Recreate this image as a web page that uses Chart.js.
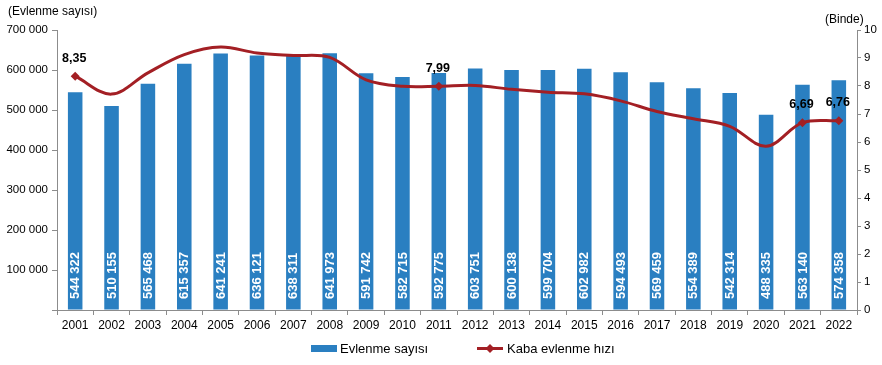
<!DOCTYPE html>
<html lang="tr">
  <head>
    <meta charset="UTF-8" />
    <title>Evlenme sayısı ve kaba evlenme hızı</title>
    <script src="https://cdn.jsdelivr.net/npm/chart.js"></script>
    <style>
      html, body {
        margin: 0;
        padding: 0;
        background: #ffffff;
      }
      #wrap {
        width: 882px;
        height: 365px;
      }
    </style>
  </head>
  <body>
    <div id="wrap"><canvas id="myChart" width="882" height="365"></canvas></div>

    <script>
      const years = ["2001", "2002", "2003", "2004", "2005", "2006", "2007", "2008", "2009", "2010", "2011",
        "2012", "2013", "2014", "2015", "2016", "2017", "2018", "2019", "2020", "2021", "2022"];
      const marriages = [544322, 510155, 565468, 615357, 641241, 636121, 638311, 641973, 591742, 582715, 592775,
        603751, 600138, 599704, 602982, 594493, 569459, 554389, 542314, 488335, 563140, 574358];
      const rates = [8.35, 7.71, 8.47, 9.12, 9.39, 9.18, 9.09, 9.02, 8.22, 7.99, 7.99,
        8.02, 7.88, 7.78, 7.72, 7.47, 7.09, 6.83, 6.56, 5.85, 6.69, 6.76];
      const labelledYears = ["2001", "2011", "2021", "2022"];
      const leftTicks = [0, 100000, 200000, 300000, 400000, 500000, 600000, 700000];
      const rightTicks = [0, 1, 2, 3, 4, 5, 6, 7, 8, 9, 10];

      const barColor = "#2a7fc1";
      const lineColor = "#a31f24";
      const axisColor = "#8c8c8c";
      const font = "'Liberation Sans', Arial, sans-serif";

      const fmt = (v) => String(v).replace(/\B(?=(\d{3})+(?!\d))/g, " ");
      const markerRadius = years.map((y) => (labelledYears.includes(y) ? 4.5 : 0));

      const labelsPlugin = {
        id: "labels",
        afterDatasetsDraw(chart) {
          const c = chart.ctx;
          const barMeta = chart.getDatasetMeta(1);
          const lineMeta = chart.getDatasetMeta(0);
          c.save();
          c.fillStyle = "#ffffff";
          c.font = "bold 13px " + font;
          c.textAlign = "left";
          c.textBaseline = "middle";
          barMeta.data.forEach((bar, i) => {
            c.save();
            c.translate(bar.x + 0.5, chart.chartArea.bottom - 11);
            c.rotate(-Math.PI / 2);
            c.fillText(fmt(marriages[i]), 0, 0);
            c.restore();
          });
          c.fillStyle = "#000000";
          c.font = "bold 12.5px " + font;
          c.textAlign = "center";
          c.textBaseline = "middle";
          lineMeta.data.forEach((pt, i) => {
            if (!labelledYears.includes(years[i])) return;
            c.fillText(rates[i].toFixed(2).replace(".", ","), pt.x - 1, pt.y - 18);
          });
          c.restore();
        },
        afterDraw(chart) {
          const c = chart.ctx;
          c.save();
          c.fillStyle = "#000000";
          c.font = "12px " + font;
          c.textBaseline = "middle";
          c.textAlign = "left";
          c.fillText("(Evlenme sayısı)", 8, 12);
          c.fillText("(Binde)", 825, 20);

          // legend
          c.font = "13px " + font;
          c.fillStyle = barColor;
          c.fillRect(311, 345, 26, 7);
          c.fillStyle = "#000000";
          c.fillText("Evlenme sayısı", 340, 349);
          c.strokeStyle = lineColor;
          c.lineWidth = 3;
          c.beginPath();
          c.moveTo(477, 348.5);
          c.lineTo(503, 348.5);
          c.stroke();
          c.fillStyle = lineColor;
          c.beginPath();
          c.moveTo(490, 344);
          c.lineTo(494.5, 348.5);
          c.lineTo(490, 353);
          c.lineTo(485.5, 348.5);
          c.closePath();
          c.fill();
          c.fillStyle = "#000000";
          c.fillText("Kaba evlenme hızı", 507, 349);
          c.restore();
        },
      };

      const ctx = document.getElementById("myChart").getContext("2d");
      const myChart = new Chart(ctx, {
        data: {
          labels: years,
          datasets: [
            {
              type: "line",
              label: "Kaba evlenme hızı",
              data: rates,
              yAxisID: "y1",
              borderColor: lineColor,
              backgroundColor: lineColor,
              borderWidth: 3,
              tension: 0.35,
              pointStyle: "rectRot",
              pointRadius: markerRadius,
              pointBorderWidth: 0,
              order: 1,
            },
            {
              type: "bar",
              label: "Evlenme sayısı",
              data: marriages,
              yAxisID: "y",
              backgroundColor: barColor,
              categoryPercentage: 1,
              barPercentage: 0.4,
              order: 2,
            },
          ],
        },
        options: {
          responsive: false,
          animation: false,
          devicePixelRatio: 1,
          layout: { padding: { top: 30, left: 0, right: 0, bottom: 0 } },
          plugins: {
            legend: { display: false },
            tooltip: { enabled: false },
          },
          scales: {
            x: {
              afterFit: (s) => { s.height = 55; },
              border: { color: axisColor, width: 1 },
              grid: { drawOnChartArea: false, color: axisColor, tickLength: 5, offset: true },
              ticks: { color: "#000", font: { family: font, size: 12 }, padding: 3, maxRotation: 0 },
            },
            y: {
              position: "left",
              min: 0,
              max: 700000,
              afterFit: (s) => { s.width = 57; },
              afterBuildTicks: (s) => { s.ticks = leftTicks.map((v) => ({ value: v })); },
              border: { color: axisColor, width: 1 },
              grid: { drawOnChartArea: false, color: axisColor, tickLength: 5 },
              ticks: {
                color: "#000",
                font: { family: font, size: 11.5 },
                padding: 4,
                callback: (v) => (v === 0 ? "" : fmt(v)),
              },
            },
            y1: {
              position: "right",
              min: 0,
              max: 10,
              afterFit: (s) => { s.width = 25; },
              afterBuildTicks: (s) => { s.ticks = rightTicks.map((v) => ({ value: v })); },
              border: { color: axisColor, width: 1 },
              grid: { drawOnChartArea: false, color: axisColor, tickLength: 4 },
              ticks: { color: "#000", font: { family: font, size: 11.5 }, padding: 3 },
            },
          },
        },
        plugins: [labelsPlugin],
      });
    </script>
  </body>
</html>
